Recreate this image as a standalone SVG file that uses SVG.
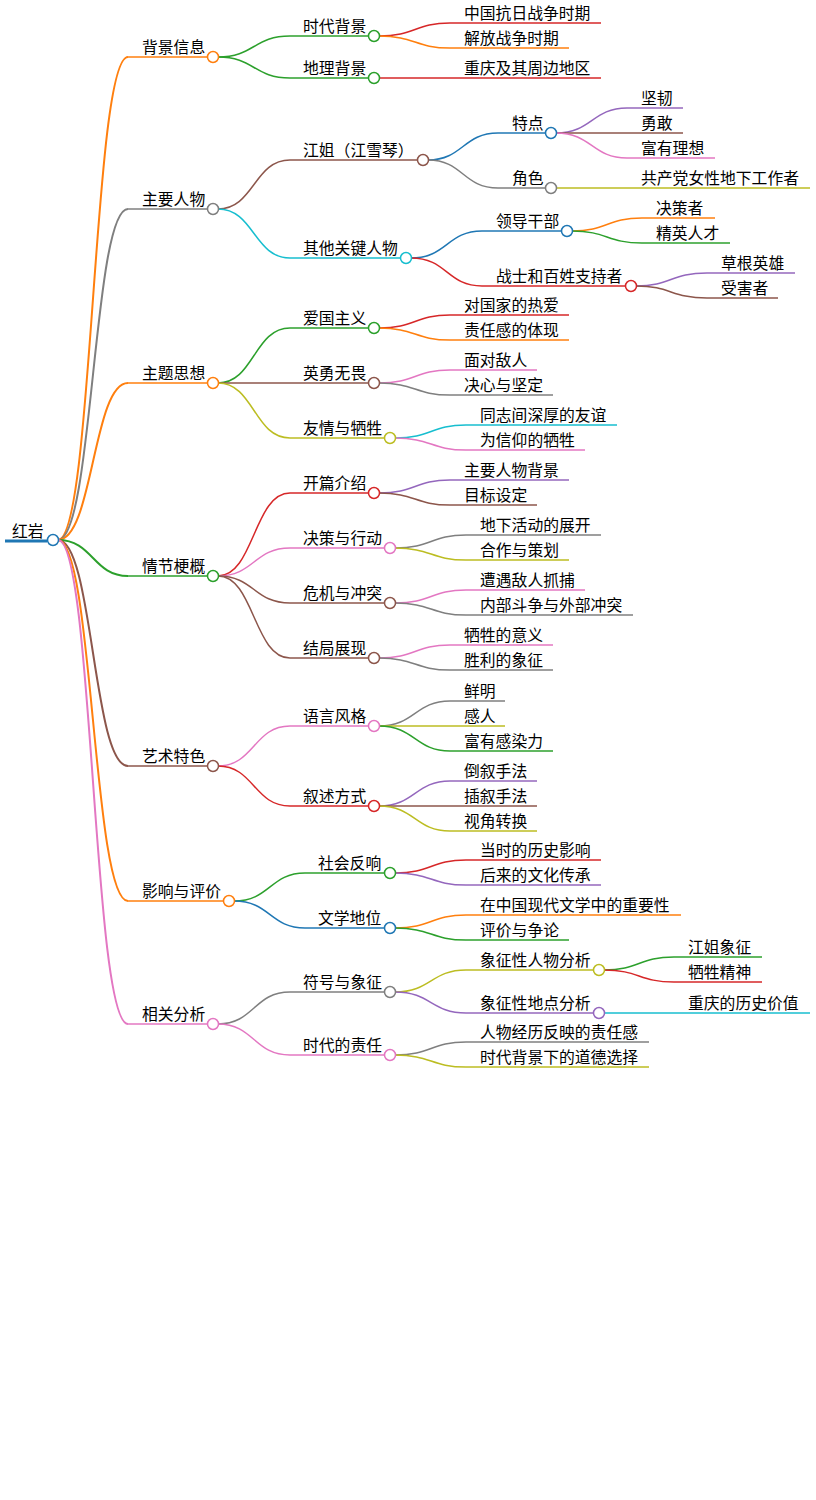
<svg xmlns="http://www.w3.org/2000/svg" width="816" height="1500" viewBox="0 0 816 1500">
<style>
text{font-family:"Noto Sans CJK SC","Noto Sans",sans-serif;font-size:15.8px;fill:#000}
path{fill:none;stroke-width:1.5}
circle{fill:#fff;stroke-width:1.5}
.o{stroke:#ff7f0e}.g{stroke:#2ca02c}.r{stroke:#d62728}.k{stroke:#7f7f7f}.b{stroke:#8c564b}.p{stroke:#e377c2}.v{stroke:#9467bd}.c{stroke:#17becf}.y{stroke:#bcbd22}.u{stroke:#1f77b4}
.t{stroke-width:2}
</style>
<rect width="816" height="1500" fill="#fff"/>
<g id="connectors">
<path class="o t" d="M58,540C93,540 93,57 128,57"/>
<path class="k t" d="M58,540C93,540 93,209 128,209"/>
<path class="o t" d="M58,540C93,540 93,383 128,383"/>
<path class="g t" d="M58,540C93,540 93,576 128,576"/>
<path class="b t" d="M58,540C93,540 93,766 128,766"/>
<path class="o t" d="M58,540C93,540 93,901 128,901"/>
<path class="p t" d="M58,540C93,540 93,1024 128,1024"/>
<path class="g" d="M218,57C254,57 254,36 290,36"/>
<path class="g" d="M218,57C254,57 254,78 290,78"/>
<path class="r" d="M379,36C415,36 415,23 450,23"/>
<path class="o" d="M379,36C415,36 415,48 450,48"/>
<path class="r" d="M379,78C415,78 415,78 450,78"/>
<path class="b" d="M218,209C254,209 254,160 290,160"/>
<path class="c" d="M218,209C254,209 254,258 290,258"/>
<path class="u" d="M428,160C463,160 463,133 498,133"/>
<path class="k" d="M428,160C463,160 463,188 498,188"/>
<path class="v" d="M556,133C592,133 592,108 627,108"/>
<path class="b" d="M556,133C592,133 592,133 627,133"/>
<path class="p" d="M556,133C592,133 592,158 627,158"/>
<path class="y" d="M556,188C592,188 592,188 627,188"/>
<path class="u" d="M411,258C447,258 447,231 482,231"/>
<path class="r" d="M411,258C447,258 447,286 482,286"/>
<path class="o" d="M572,231C607,231 607,218 642,218"/>
<path class="g" d="M572,231C607,231 607,243 642,243"/>
<path class="v" d="M636,286C671,286 671,273 707,273"/>
<path class="b" d="M636,286C671,286 671,298 707,298"/>
<path class="g" d="M218,383C254,383 254,328 290,328"/>
<path class="b" d="M218,383C254,383 254,383 290,383"/>
<path class="y" d="M218,383C254,383 254,438 290,438"/>
<path class="r" d="M379,328C415,328 415,315 450,315"/>
<path class="o" d="M379,328C415,328 415,340 450,340"/>
<path class="p" d="M379,383C415,383 415,370 450,370"/>
<path class="k" d="M379,383C415,383 415,395 450,395"/>
<path class="c" d="M395,438C431,438 431,425 466,425"/>
<path class="p" d="M395,438C431,438 431,450 466,450"/>
<path class="r" d="M218,576C254,576 254,493 290,493"/>
<path class="p" d="M218,576C254,576 254,548 290,548"/>
<path class="b" d="M218,576C254,576 254,603 290,603"/>
<path class="b" d="M218,576C254,576 254,658 290,658"/>
<path class="v" d="M379,493C415,493 415,480 450,480"/>
<path class="b" d="M379,493C415,493 415,505 450,505"/>
<path class="k" d="M395,548C431,548 431,535 466,535"/>
<path class="y" d="M395,548C431,548 431,560 466,560"/>
<path class="p" d="M395,603C431,603 431,590 466,590"/>
<path class="k" d="M395,603C431,603 431,615 466,615"/>
<path class="p" d="M379,658C415,658 415,645 450,645"/>
<path class="k" d="M379,658C415,658 415,670 450,670"/>
<path class="p" d="M218,766C254,766 254,726 290,726"/>
<path class="r" d="M218,766C254,766 254,806 290,806"/>
<path class="k" d="M379,726C415,726 415,701 450,701"/>
<path class="y" d="M379,726C415,726 415,726 450,726"/>
<path class="g" d="M379,726C415,726 415,751 450,751"/>
<path class="v" d="M379,806C415,806 415,781 450,781"/>
<path class="b" d="M379,806C415,806 415,806 450,806"/>
<path class="y" d="M379,806C415,806 415,831 450,831"/>
<path class="g" d="M234,901C270,901 270,873 305,873"/>
<path class="u" d="M234,901C270,901 270,928 305,928"/>
<path class="r" d="M395,873C431,873 431,860 466,860"/>
<path class="v" d="M395,873C431,873 431,885 466,885"/>
<path class="o" d="M395,928C431,928 431,915 466,915"/>
<path class="g" d="M395,928C431,928 431,940 466,940"/>
<path class="k" d="M218,1024C254,1024 254,992 290,992"/>
<path class="p" d="M218,1024C254,1024 254,1055 290,1055"/>
<path class="y" d="M395,992C431,992 431,970 466,970"/>
<path class="v" d="M395,992C431,992 431,1013 466,1013"/>
<path class="g" d="M604,970C639,970 639,957 674,957"/>
<path class="r" d="M604,970C639,970 639,982 674,982"/>
<path class="c" d="M604,1013C639,1013 639,1013 674,1013"/>
<path class="k" d="M395,1055C431,1055 431,1042 466,1042"/>
<path class="y" d="M395,1055C431,1055 431,1067 466,1067"/>
</g>
<g id="root"><path class="u" style="stroke-width:3" d="M5,541H47"/><circle class="u" cx="53" cy="540" r="5.5"/><text x="12" y="537">红岩</text></g>
<g id="n1"><path class="o" d="M128,57H207"/><circle class="o" cx="213" cy="57" r="5.5"/><text x="142" y="53">背景信息</text></g>
<g id="n1a"><path class="g" d="M290,36H368"/><circle class="g" cx="374" cy="36" r="5.5"/><text x="303" y="32">时代背景</text></g>
<g id="n1a1"><path class="r" d="M450,23H601"/><text x="464" y="19">中国抗日战争时期</text></g>
<g id="n1a2"><path class="o" d="M450,48H569"/><text x="464" y="44">解放战争时期</text></g>
<g id="n1b"><path class="g" d="M290,78H368"/><circle class="g" cx="374" cy="78" r="5.5"/><text x="303" y="74">地理背景</text></g>
<g id="n1b1"><path class="r" d="M450,78H601"/><text x="464" y="74">重庆及其周边地区</text></g>
<g id="n2"><path class="k" d="M128,209H207"/><circle class="k" cx="213" cy="209" r="5.5"/><text x="142" y="205">主要人物</text></g>
<g id="n2a"><path class="b" d="M290,160H417"/><circle class="b" cx="423" cy="160" r="5.5"/><text x="303" y="156">江姐（江雪琴）</text></g>
<g id="n2a1"><path class="u" d="M498,133H545"/><circle class="u" cx="551" cy="133" r="5.5"/><text x="512" y="129">特点</text></g>
<g id="n2a1a"><path class="v" d="M627,108H683"/><text x="641" y="104">坚韧</text></g>
<g id="n2a1b"><path class="b" d="M627,133H683"/><text x="641" y="129">勇敢</text></g>
<g id="n2a1c"><path class="p" d="M627,158H715"/><text x="641" y="154">富有理想</text></g>
<g id="n2a2"><path class="k" d="M498,188H545"/><circle class="k" cx="551" cy="188" r="5.5"/><text x="512" y="184">角色</text></g>
<g id="n2a2a"><path class="y" d="M627,188H810"/><text x="641" y="184">共产党女性地下工作者</text></g>
<g id="n2b"><path class="c" d="M290,258H400"/><circle class="c" cx="406" cy="258" r="5.5"/><text x="303" y="254">其他关键人物</text></g>
<g id="n2b1"><path class="u" d="M482,231H561"/><circle class="u" cx="567" cy="231" r="5.5"/><text x="496" y="227">领导干部</text></g>
<g id="n2b1a"><path class="o" d="M642,218H715"/><text x="656" y="214">决策者</text></g>
<g id="n2b1b"><path class="g" d="M642,243H730"/><text x="656" y="239">精英人才</text></g>
<g id="n2b2"><path class="r" d="M482,286H625"/><circle class="r" cx="631" cy="286" r="5.5"/><text x="496" y="282">战士和百姓支持者</text></g>
<g id="n2b2a"><path class="v" d="M707,273H795"/><text x="721" y="269">草根英雄</text></g>
<g id="n2b2b"><path class="b" d="M707,298H778"/><text x="721" y="294">受害者</text></g>
<g id="n3"><path class="o" d="M128,383H207"/><circle class="o" cx="213" cy="383" r="5.5"/><text x="142" y="379">主题思想</text></g>
<g id="n3a"><path class="g" d="M290,328H368"/><circle class="g" cx="374" cy="328" r="5.5"/><text x="303" y="324">爱国主义</text></g>
<g id="n3a1"><path class="r" d="M450,315H569"/><text x="464" y="311">对国家的热爱</text></g>
<g id="n3a2"><path class="o" d="M450,340H569"/><text x="464" y="336">责任感的体现</text></g>
<g id="n3b"><path class="b" d="M290,383H368"/><circle class="b" cx="374" cy="383" r="5.5"/><text x="303" y="379">英勇无畏</text></g>
<g id="n3b1"><path class="p" d="M450,370H537"/><text x="464" y="366">面对敌人</text></g>
<g id="n3b2"><path class="k" d="M450,395H553"/><text x="464" y="391">决心与坚定</text></g>
<g id="n3c"><path class="y" d="M290,438H384"/><circle class="y" cx="390" cy="438" r="5.5"/><text x="303" y="434">友情与牺牲</text></g>
<g id="n3c1"><path class="c" d="M466,425H617"/><text x="480" y="421">同志间深厚的友谊</text></g>
<g id="n3c2"><path class="p" d="M466,450H585"/><text x="480" y="446">为信仰的牺牲</text></g>
<g id="n4"><path class="g" d="M128,576H207"/><circle class="g" cx="213" cy="576" r="5.5"/><text x="142" y="572">情节梗概</text></g>
<g id="n4a"><path class="r" d="M290,493H368"/><circle class="r" cx="374" cy="493" r="5.5"/><text x="303" y="489">开篇介绍</text></g>
<g id="n4a1"><path class="v" d="M450,480H569"/><text x="464" y="476">主要人物背景</text></g>
<g id="n4a2"><path class="b" d="M450,505H537"/><text x="464" y="501">目标设定</text></g>
<g id="n4b"><path class="p" d="M290,548H384"/><circle class="p" cx="390" cy="548" r="5.5"/><text x="303" y="544">决策与行动</text></g>
<g id="n4b1"><path class="k" d="M466,535H601"/><text x="480" y="531">地下活动的展开</text></g>
<g id="n4b2"><path class="y" d="M466,560H569"/><text x="480" y="556">合作与策划</text></g>
<g id="n4c"><path class="b" d="M290,603H384"/><circle class="b" cx="390" cy="603" r="5.5"/><text x="303" y="599">危机与冲突</text></g>
<g id="n4c1"><path class="p" d="M466,590H585"/><text x="480" y="586">遭遇敌人抓捕</text></g>
<g id="n4c2"><path class="k" d="M466,615H633"/><text x="480" y="611">内部斗争与外部冲突</text></g>
<g id="n4d"><path class="b" d="M290,658H368"/><circle class="b" cx="374" cy="658" r="5.5"/><text x="303" y="654">结局展现</text></g>
<g id="n4d1"><path class="p" d="M450,645H553"/><text x="464" y="641">牺牲的意义</text></g>
<g id="n4d2"><path class="k" d="M450,670H553"/><text x="464" y="666">胜利的象征</text></g>
<g id="n5"><path class="b" d="M128,766H207"/><circle class="b" cx="213" cy="766" r="5.5"/><text x="142" y="762">艺术特色</text></g>
<g id="n5a"><path class="p" d="M290,726H368"/><circle class="p" cx="374" cy="726" r="5.5"/><text x="303" y="722">语言风格</text></g>
<g id="n5a1"><path class="k" d="M450,701H505"/><text x="464" y="697">鲜明</text></g>
<g id="n5a2"><path class="y" d="M450,726H505"/><text x="464" y="722">感人</text></g>
<g id="n5a3"><path class="g" d="M450,751H553"/><text x="464" y="747">富有感染力</text></g>
<g id="n5b"><path class="r" d="M290,806H368"/><circle class="r" cx="374" cy="806" r="5.5"/><text x="303" y="802">叙述方式</text></g>
<g id="n5b1"><path class="v" d="M450,781H537"/><text x="464" y="777">倒叙手法</text></g>
<g id="n5b2"><path class="b" d="M450,806H537"/><text x="464" y="802">插叙手法</text></g>
<g id="n5b3"><path class="y" d="M450,831H537"/><text x="464" y="827">视角转换</text></g>
<g id="n6"><path class="o" d="M128,901H223"/><circle class="o" cx="229" cy="901" r="5.5"/><text x="142" y="897">影响与评价</text></g>
<g id="n6a"><path class="g" d="M305,873H384"/><circle class="g" cx="390" cy="873" r="5.5"/><text x="318" y="869">社会反响</text></g>
<g id="n6a1"><path class="r" d="M466,860H601"/><text x="480" y="856">当时的历史影响</text></g>
<g id="n6a2"><path class="v" d="M466,885H601"/><text x="480" y="881">后来的文化传承</text></g>
<g id="n6b"><path class="u" d="M305,928H384"/><circle class="u" cx="390" cy="928" r="5.5"/><text x="318" y="924">文学地位</text></g>
<g id="n6b1"><path class="o" d="M466,915H681"/><text x="480" y="911">在中国现代文学中的重要性</text></g>
<g id="n6b2"><path class="g" d="M466,940H569"/><text x="480" y="936">评价与争论</text></g>
<g id="n7"><path class="p" d="M128,1024H207"/><circle class="p" cx="213" cy="1024" r="5.5"/><text x="142" y="1020">相关分析</text></g>
<g id="n7a"><path class="k" d="M290,992H384"/><circle class="k" cx="390" cy="992" r="5.5"/><text x="303" y="988">符号与象征</text></g>
<g id="n7a1"><path class="y" d="M466,970H593"/><circle class="y" cx="599" cy="970" r="5.5"/><text x="480" y="966">象征性人物分析</text></g>
<g id="n7a1a"><path class="g" d="M674,957H762"/><text x="688" y="953">江姐象征</text></g>
<g id="n7a1b"><path class="r" d="M674,982H762"/><text x="688" y="978">牺牲精神</text></g>
<g id="n7a2"><path class="v" d="M466,1013H593"/><circle class="v" cx="599" cy="1013" r="5.5"/><text x="480" y="1009">象征性地点分析</text></g>
<g id="n7a2a"><path class="c" d="M674,1013H810"/><text x="688" y="1009">重庆的历史价值</text></g>
<g id="n7b"><path class="p" d="M290,1055H384"/><circle class="p" cx="390" cy="1055" r="5.5"/><text x="303" y="1051">时代的责任</text></g>
<g id="n7b1"><path class="k" d="M466,1042H649"/><text x="480" y="1038">人物经历反映的责任感</text></g>
<g id="n7b2"><path class="y" d="M466,1067H649"/><text x="480" y="1063">时代背景下的道德选择</text></g>
</svg>
